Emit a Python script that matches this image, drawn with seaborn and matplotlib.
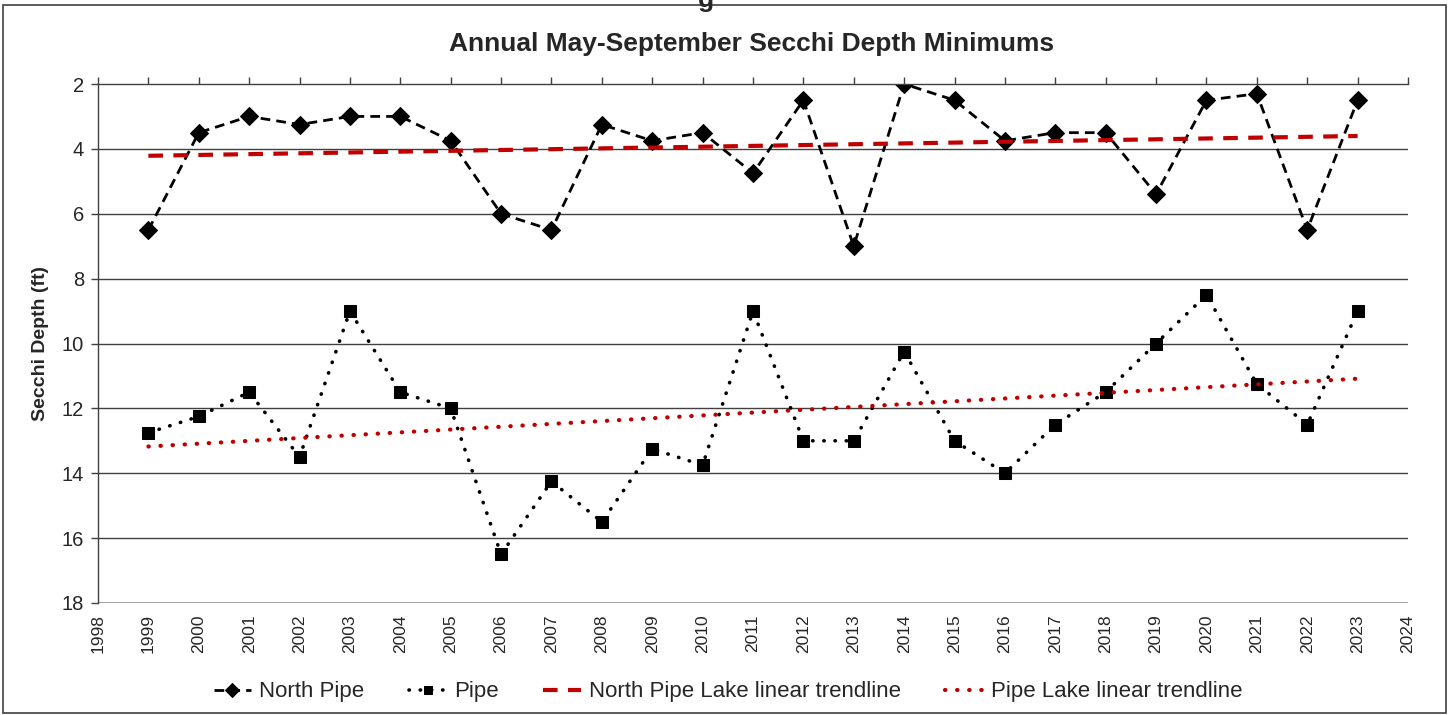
import numpy as np
import pandas as pd
import seaborn as sns
from matplotlib import pyplot as plt
from matplotlib.patches import Rectangle

# ----------------------------------------------------------------------------------------------------------------------
#   Dados
# ----------------------------------------------------------------------------------------------------------------------
years = list(range(1999, 2024))
north_pipe = [6.5, 3.5, 3.0, 3.25, 3.0, 3.0, 3.75, 6.0, 6.5, 3.25, 3.75, 3.5, 4.75,
              2.5, 7.0, 2.0, 2.5, 3.75, 3.5, 3.5, 5.4, 2.5, 2.3, 6.5, 2.5]
pipe = [12.75, 12.25, 11.5, 13.5, 9.0, 11.5, 12.0, 16.5, 14.25, 15.5, 13.25, 13.75, 9.0,
        13.0, 13.0, 10.25, 13.0, 14.0, 12.5, 11.5, 10.0, 8.5, 11.25, 12.5, 9.0]

series_labels = ["North Pipe", "Pipe", "North Pipe Lake linear trendline", "Pipe Lake linear trendline"]
title = "Annual May-September Secchi Depth Minimums"
ylabel = "Secchi Depth (ft)"
yticks = [2, 4, 6, 8, 10, 12, 14, 16, 18]
xticks = list(range(1998, 2025))

df = pd.DataFrame({"year": years, "north": north_pipe, "pipe": pipe})

# ----------------------------------------------------------------------------------------------------------------------
sns.set_style("white")
plt.rcParams['font.family'] = ['Liberation Sans', 'DejaVu Sans']

fig = plt.figure(figsize=(14.52, 7.15), dpi=100)
ax = fig.add_axes([98 / 1452, 1 - 603 / 715, (1408 - 98) / 1452, (603 - 84) / 715])

# Series
sns.lineplot(x="year", y="north", data=df, ax=ax, color="black", marker="D", markersize=9,
             linestyle=(0, (3.5, 2.2)), linewidth=2.0, markeredgecolor="black", label=series_labels[0])
sns.lineplot(x="year", y="pipe", data=df, ax=ax, color="black", marker="s", markersize=8,
             linestyle=(0, (0.1, 3.0)), linewidth=2.6, dash_capstyle="round",
             markeredgecolor="black", label=series_labels[1])

# Trendlines
sns.regplot(x="year", y="north", data=df, ax=ax, scatter=False, ci=None,
            line_kws=dict(color="#C00000", linestyle=(0, (3.5, 2.5)), linewidth=3.0), label=series_labels[2])
sns.regplot(x="year", y="pipe", data=df, ax=ax, scatter=False, ci=None,
            line_kws=dict(color="#C00000", linestyle=(0, (0.1, 2.8)), linewidth=3.0,
                          dash_capstyle="round"), label=series_labels[3])

# Eixos
ax.set_xlim(1998, 2024)
ax.set_ylim(18, 2)
ax.set_xticks(xticks)
ax.set_xticklabels([str(x) for x in xticks], rotation=90, fontsize=12.5)
ax.set_yticks(yticks)
ax.set_yticklabels([str(y) for y in yticks], fontsize=14.5)
ax.set_xlabel("")
ax.set_ylabel(ylabel, fontsize=14, fontweight="bold", labelpad=9)

ax.tick_params(axis="x", top=True, bottom=False, labeltop=False, labelbottom=True,
               direction="out", length=5, width=1, color="#404040", pad=3)
ax.tick_params(axis="y", left=True, direction="out", length=5, width=1, color="#404040", pad=5)

for y in yticks[1:-1]:
    ax.axhline(y, color="#404040", linewidth=1.0, zorder=0)
ax.axhline(18, color="#909090", linewidth=1.2, zorder=0)

for side in ["right", "bottom"]:
    ax.spines[side].set_visible(False)
for side in ["top", "left"]:
    ax.spines[side].set_color("#404040")
    ax.spines[side].set_linewidth(1.0)

fig.text(752 / 1452, 1 - 44 / 715, title, ha="center", va="center", fontsize=19, fontweight="bold")
fig.text(0.486, 1.0, "g", ha="center", va="center", fontsize=19, fontweight="bold")

# Legenda
handles, labels = ax.get_legend_handles_labels()
leg = ax.legend(handles, labels, loc="center", bbox_to_anchor=(728 / 1452, 1 - 692 / 715),
                bbox_transform=fig.transFigure, ncol=4, frameon=False, fontsize=16,
                handlelength=1.7, columnspacing=2.0, handletextpad=0.35, markerscale=0.8)

# Borda da figura
fig.patches.append(Rectangle((3 / 1452, 2 / 715), 1443 / 1452, 708 / 715, transform=fig.transFigure,
                             fill=False, edgecolor="#404040", linewidth=1.2))

fig.savefig("out.png", dpi=100)
